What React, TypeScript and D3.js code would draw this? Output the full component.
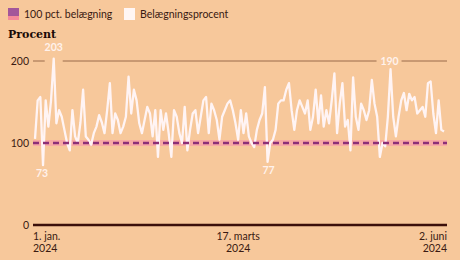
import React from "react";
import * as d3 from "d3";

// Daily occupancy (belægningsprocent), 1 Jan 2024 – 2 Jun 2024
const startDate = new Date(2024, 0, 1);
const endDate = new Date(2024, 5, 2);
const occupancy = [
  105, 152, 156, 73, 152, 120, 152, 203, 124, 140,
  132, 116, 100, 91, 140, 108, 100, 125, 165, 108,
  104, 98, 112, 120, 134, 125, 112, 140, 173, 112,
  136, 128, 112, 120, 132, 181, 136, 165, 152, 124,
  112, 128, 144, 136, 108, 140, 83, 140, 116, 136,
  112, 83, 140, 132, 112, 100, 144, 91, 116, 136,
  140, 112, 132, 152, 156, 112, 148, 140, 128, 104,
  132, 140, 148, 152, 140, 124, 104, 140, 112, 136,
  108, 100, 95, 116, 128, 136, 168, 77, 100, 104,
  116, 148, 152, 152, 165, 173, 140, 116, 140, 152,
  144, 136, 152, 116, 132, 165, 124, 158, 120, 140,
  124, 152, 185, 112, 148, 173, 120, 128, 91, 180,
  132, 116, 148, 140, 128, 140, 177, 148, 132, 83,
  100, 96, 132, 190, 132, 108, 132, 152, 161, 140,
  160, 152, 156, 136, 140, 144, 132, 173, 175, 136,
  112, 152, 116, 114,
];
const referenceLevel = 100;
const yTicks = [0, 100, 200];
const xTickDates = [new Date(2024, 0, 1), new Date(2024, 2, 17), new Date(2024, 5, 2)];
const xTickLabels = [
  ["1. jan.", "2024"],
  ["17. marts", "2024"],
  ["2. juni", "2024"],
];
const legendLabels = ["100 pct. belægning", "Belægningsprocent"];
const yAxisTitle = "Procent";
// indices of annotated points
const annotatedIdx = [7, 3, 87, 133];

const BG = "#f7c89b";
const TEXT = "#3a1a12";
const FONT = "Lato, 'Open Sans', sans-serif";

export default function App() {
  const W = 460;
  const H = 260;
  const x = d3.scaleTime().domain([startDate, endDate]).range([35, 444]);
  const y = d3.scaleLinear().domain([0, 200]).range([225, 61]);
  const data = occupancy.map((v, i) => ({ date: d3.timeDay.offset(startDate, i), v }));
  const line = d3
    .line<{ date: Date; v: number }>()
    .x((d) => x(d.date))
    .y((d) => y(d.v));

  const axisLeft = 33;
  const axisRight = 447;
  const ann = annotatedIdx.map((i) => data[i]);
  const a203 = ann[0];
  const a190 = ann[3];

  const gridY = y(200);
  const gaps = [
    [x(a203.date) - 9, x(a203.date) + 9],
    [x(a190.date) - 14, x(a190.date) + 11],
  ];
  const segs: [number, number][] = [];
  let s = axisLeft;
  gaps.forEach(([g0, g1]) => {
    segs.push([s, g0]);
    s = g1;
  });
  segs.push([s, axisRight]);

  return (
    <svg
      width={W}
      height={H}
      style={{ position: "absolute", left: 0, top: 0, display: "block" }}
      fontFamily={FONT}
    >
      <rect x={0} y={0} width={W} height={H} fill={BG} />

      {/* legend */}
      <g>
        <rect x={8} y={8} width={11} height={12} fill="#f58a9a" />
        <rect x={8} y={8} width={11} height={8} fill="#a3569a" />
        <text x={24} y={18} fontSize={10.5} fill={TEXT}>{legendLabels[0]}</text>
        <rect x={124} y={8} width={11} height={12} fill="#fff6f4" />
        <text x={140} y={18} fontSize={10.5} fill={TEXT}>{legendLabels[1]}</text>
      </g>

      <text x={8} y={38} fontSize={11} fontWeight="bold" fontFamily="'DejaVu Serif', serif" fill="#1a0a06">
        {yAxisTitle}
      </text>

      {/* 200 gridline */}
      {segs.map(([a, b], i) => (
        <line key={i} x1={a} x2={b} y1={gridY} y2={gridY} stroke="#9a6a4a" strokeWidth={1} />
      ))}

      {/* y tick labels */}
      {yTicks.map((t) => (
        <text key={t} x={29} y={y(t) + 4} fontSize={10.5} textAnchor="end" fill={TEXT}>
          {t}
        </text>
      ))}

      {/* reference band */}
      <line
        x1={axisLeft}
        x2={axisRight}
        y1={y(referenceLevel)}
        y2={y(referenceLevel)}
        stroke="#f8aaa4"
        strokeWidth={6}
      />

      {/* data line */}
      <path d={line(data) || ""} fill="none" stroke="#fff4f4" strokeWidth={2.3} strokeLinejoin="round" />

      {/* reference dashed */}
      <line
        x1={axisLeft}
        x2={axisRight}
        y1={y(referenceLevel)}
        y2={y(referenceLevel)}
        stroke="#8c2f78"
        strokeWidth={2.5}
        strokeDasharray="6 4"
      />

      {/* zero axis */}
      <line x1={axisLeft} x2={axisRight} y1={y(0)} y2={y(0)} stroke="#3b0f0a" strokeWidth={2.5} />

      {/* annotations */}
      <text x={x(ann[0].date)} y={y(ann[0].v) - 8} fontSize={10.5} fontWeight="bold" textAnchor="middle" fill="#fff2ec">
        {ann[0].v}
      </text>
      <text x={x(ann[1].date) - 1} y={y(ann[1].v) + 12} fontSize={10.5} fontWeight="bold" textAnchor="middle" fill="#fff2ec">
        {ann[1].v}
      </text>
      <text x={x(ann[2].date) + 1} y={y(ann[2].v) + 12} fontSize={10.5} fontWeight="bold" textAnchor="middle" fill="#fff2ec">
        {ann[2].v}
      </text>
      <text x={x(ann[3].date) - 1} y={gridY + 4} fontSize={10.5} fontWeight="bold" textAnchor="middle" fill="#fff2ec">
        {ann[3].v}
      </text>

      {/* x labels */}
      {xTickDates.map((d, i) => {
        const anchor = i === 0 ? "start" : i === xTickDates.length - 1 ? "end" : "middle";
        const xx = i === 0 ? axisLeft : i === xTickDates.length - 1 ? axisRight : x(d);
        return (
          <text key={i} x={xx} y={240} fontSize={10.5} textAnchor={anchor} fill={TEXT}>
            <tspan x={xx}>{xTickLabels[i][0]}</tspan>
            <tspan x={xx} dy={12}>{xTickLabels[i][1]}</tspan>
          </text>
        );
      })}
    </svg>
  );
}
